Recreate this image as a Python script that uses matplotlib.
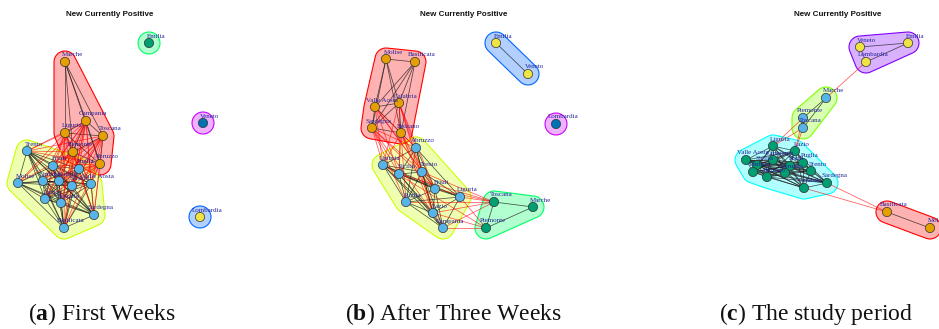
import colorsys
import numpy as np
import matplotlib
matplotlib.use("Agg")
import matplotlib.pyplot as plt
from matplotlib.patches import Polygon
from matplotlib.collections import LineCollection

plt.rcParams["mathtext.fontset"] = "custom"
plt.rcParams["mathtext.rm"] = "Liberation Serif"
plt.rcParams["mathtext.bf"] = "Liberation Serif:bold"

# ---------------------------------------------------------------- data
region_names = {
    "Ab": "Abruzzo", "Ba": "Basilicata", "Bo": "Bolzano", "Cl": "Calabria",
    "Cm": "Campania", "Em": "Emilia", "Fr": "Friuli", "Lz": "Lazio",
    "Lg": "Liguria", "Lo": "Lombardia", "Mr": "Marche", "Ml": "Molise",
    "Pi": "Piemonte", "Pu": "Puglia", "Sa": "Sardegna", "Si": "Sicilia",
    "To": "Toscana", "Tr": "Trento", "Um": "Umbria", "VA": "Valle Aosta",
    "Ve": "Veneto",
}

panel_title = "New Currently Positive"
caption_letters = ["a", "b", "c"]
caption_texts = ["First Weeks", "After Three Weeks", "The study period"]

# network layouts (canvas units, y grows downward)
nodes_a = ["Em", "Mr", "Cm", "Lg", "To", "Pi", "Ab", "Ve", "Lo", "Tr", "Fr",
           "Pu", "VA", "Ml", "Um", "Cl", "Si", "Lz", "Bo", "Sa", "Ba"]
x_a = [149, 65, 86, 65, 103, 73, 100, 203, 200, 27, 53,
       79, 91, 18, 43, 59, 72, 45, 61, 94, 64]
y_a = [43, 62, 121, 133, 136, 152, 164, 123, 217, 151, 166,
       169, 184, 183, 181, 181, 186, 199, 203, 215, 228]

nodes_b = ["Em", "Ve", "Lo", "Ml", "Ba", "VA", "Cl", "Sa", "Bo", "Ab", "Um",
           "Si", "Tr", "Fr", "Lg", "Pu", "Lz", "Cm", "To", "Mr", "Pi"]
x_b = [496, 528, 556, 386, 415, 375, 399, 372, 401, 416, 383,
       399, 422, 435, 460, 406, 433, 443, 494, 533, 486]
y_b = [43, 74, 124, 59, 62, 107, 103, 128, 133, 148, 165,
       174, 172, 189, 197, 202, 213, 228, 202, 207, 228]

nodes_c = ["Ve", "Em", "Lo", "Mr", "Pi", "To", "Lg", "Lz", "VA", "Cm", "Pu",
           "Si", "Um", "Bo", "Fr", "Ab", "Tr", "Sa", "Cl", "Ba", "Ml"]
x_c = [860, 908, 866, 826, 803, 803, 773, 795, 746, 773, 803,
       757, 753, 767, 790, 785, 811, 827, 804, 887, 930]
y_c = [47, 43, 62, 98, 118, 128, 146, 151, 160, 160, 163,
       165, 172, 177, 166, 173, 171, 183, 188, 212, 228]

# communities: members and vertex colour
groups_a = [("Mr Cm Lg To Pi Ab", "#E69F00"),
            ("Tr Fr Pu VA Ml Um Cl Si Lz Bo Sa Ba", "#56B4E9"),
            ("Em", "#009E73"),
            ("Lo", "#F0E442"),
            ("Ve", "#0072B2")]
groups_b = [("Ml Ba VA Cl Sa Bo", "#E69F00"),
            ("Ab Um Si Tr Fr Lg Pu Lz Cm", "#56B4E9"),
            ("To Mr Pi", "#009E73"),
            ("Em Ve", "#F0E442"),
            ("Lo", "#0072B2")]
groups_c = [("Ba Ml", "#E69F00"),
            ("Mr Pi To", "#56B4E9"),
            ("Lg Lz VA Cm Pu Si Um Bo Fr Ab Tr Sa Cl", "#009E73"),
            ("Ve Em Lo", "#F0E442")]

# adjacency lists
edges_a = """
Mr: Cm Lg To Pi Ab
Cm: Lg To Pi Ab Tr Fr Pu VA Ml Um Cl Si Lz Bo Sa Ba
Lg: To Pi Ab Tr Fr Pu VA Ml Um Cl Si Lz Bo Sa Ba
To: Pi Ab Tr Fr Pu VA Um Cl Si Lz Bo Sa Ba
Pi: Ab Tr Fr Pu VA Ml Um Cl Si Lz Bo Sa Ba
Ab: Tr Fr Pu VA Um Cl Si Lz Bo Sa Ba
Tr: Fr Pu VA Ml Um Cl Si Lz Bo Sa Ba
Fr: Pu VA Ml Um Cl Si Lz Bo Sa Ba
Pu: VA Um Cl Si Lz Bo Sa Ba
VA: Um Cl Si Lz Bo Sa Ba
Ml: Um Cl Si Lz Bo Sa Ba
Um: Cl Si Lz Bo Sa Ba
Cl: Si Lz Bo Sa Ba
Si: Lz Bo Sa Ba
Lz: Bo Sa Ba
Bo: Sa Ba
Sa: Ba
"""

edges_b = """
Em: Ve
Ml: Ba VA Cl Sa Bo
Ba: VA Cl Sa Bo
VA: Cl Sa Bo Ab Um Si Tr Fr
Cl: Sa Bo Ab Um Si Tr Fr Lz
Sa: Bo Ab Um Si Tr Fr Pu Lz
Bo: Ab Um Si Tr Fr Pu Lz Cm
Ab: Um Si Tr Fr Lg Pu Lz
Um: Si Tr Fr Lg Pu Lz Cm Pi
Si: Tr Fr Lg Pu Lz Cm To
Tr: Fr Lg Pu Lz Cm To
Fr: Lg Pu Lz Cm To
Lg: Pu Lz Cm To Pi
Pu: Lz Cm To
Lz: Cm To Pi
Cm: To Pi
To: Mr Pi
Pi: Mr
"""

edges_c = """
Ve: Em Lo
Em: Lo
Lo: Mr
Mr: Pi To
Pi: To Lg Lz
To: Lg Lz
Lg: Lz VA Cm Pu Si Um Bo Fr Ab Tr Cl
Lz: VA Cm Pu Si Um Bo Fr Ab Tr Sa Cl
VA: Cm Pu Si Um Bo Fr Ab Tr Sa Cl
Cm: Pu Si Um Bo Fr Ab Tr Sa Cl
Pu: Si Um Bo Fr Ab Tr Sa Cl
Si: Um Bo Fr Ab Tr Sa Cl
Um: Bo Fr Ab Tr Sa Cl
Bo: Fr Ab Tr Sa Cl
Fr: Ab Tr Sa Cl
Ab: Tr Sa Cl
Tr: Sa Cl
Sa: Cl Ba
Cl: Ba
Ba: Ml
"""

title_x = [110, 464, 838]
caption_x = [102, 453, 816]


# ---------------------------------------------------------------- helpers
def rainbow(n):
    """R-style rainbow palette."""
    out = []
    for i in range(n):
        r, g, b = colorsys.hsv_to_rgb(i / n, 1.0, 1.0)
        out.append((r, g, b))
    return out


def convex_hull(pts):
    pts = sorted(set(map(tuple, pts)))
    if len(pts) <= 2:
        return pts

    def cross(o, a, b):
        return (a[0] - o[0]) * (b[1] - o[1]) - (a[1] - o[1]) * (b[0] - o[0])

    lower, upper = [], []
    for p in pts:
        while len(lower) >= 2 and cross(lower[-2], lower[-1], p) <= 0:
            lower.pop()
        lower.append(p)
    for p in reversed(pts):
        while len(upper) >= 2 and cross(upper[-2], upper[-1], p) <= 0:
            upper.pop()
        upper.append(p)
    return lower[:-1] + upper[:-1]


def chaikin(poly, n_iter=3):
    p = np.asarray(poly, float)
    for _ in range(n_iter):
        q = np.roll(p, -1, axis=0)
        p = np.vstack([0.75 * p + 0.25 * q, 0.25 * p + 0.75 * q]).reshape(2, -1, 2)
        p = p.transpose(1, 0, 2).reshape(-1, 2)
    return p


def group_outline(xy, radius=11):
    t = np.linspace(0, 2 * np.pi, 48, endpoint=False)
    ring = np.column_stack([np.cos(t), np.sin(t)]) * radius
    pts = np.vstack([p + ring for p in xy])
    hull = convex_hull(np.round(pts, 3))
    return chaikin(hull, 4)


def parse_edges(text):
    pairs = []
    for line in text.strip().splitlines():
        src, rest = line.split(":")
        for dst in rest.split():
            pairs.append((src.strip(), dst))
    return pairs


def draw_network(ax, nodes, xs, ys, groups, edge_text):
    pos = {n: (x, y) for n, x, y in zip(nodes, xs, ys)}
    membership, vcolor = {}, {}
    for gi, (members, col) in enumerate(groups):
        for m in members.split():
            membership[m] = gi
            vcolor[m] = col

    # community outlines
    for (members, _), hc in zip(groups, rainbow(len(groups))):
        xy = np.array([pos[m] for m in members.split()])
        outline = group_outline(xy)
        ax.add_patch(Polygon(outline, closed=True, facecolor=(*hc, 0.3),
                             edgecolor=hc, linewidth=0.8, zorder=1))

    # edges: black inside a community, red across communities
    inner, cross = [], []
    for a, b in parse_edges(edge_text):
        seg = [pos[a], pos[b]]
        (inner if membership[a] == membership[b] else cross).append(seg)
    ax.add_collection(LineCollection(inner, colors="#1a1a1a", linewidths=0.55,
                                     alpha=0.75, zorder=2))
    ax.add_collection(LineCollection(cross, colors="#FF0000", linewidths=0.55,
                                     alpha=0.65, zorder=2.5))

    # vertices
    ax.scatter(xs, ys, s=44, c=[vcolor[n] for n in nodes],
               edgecolors="#303030", linewidths=0.5, zorder=3)

    # vertex labels, placed up and to the right
    for n, x, y in zip(nodes, xs, ys):
        ax.text(x + 7, y - 7, region_names[n], fontsize=5,
                family="Liberation Serif", color="#24249a",
                ha="center", va="center", zorder=4)


# ---------------------------------------------------------------- figure
fig = plt.figure(figsize=(9.39, 3.29), dpi=100)
ax = fig.add_axes([0, 0, 1, 1])
ax.set_xlim(0, 939)
ax.set_ylim(329, 0)
ax.axis("off")

draw_network(ax, nodes_a, x_a, y_a, groups_a, edges_a)
draw_network(ax, nodes_b, x_b, y_b, groups_b, edges_b)
draw_network(ax, nodes_c, x_c, y_c, groups_c, edges_c)

for tx in title_x:
    ax.text(tx, 15, panel_title, fontsize=5.8, fontweight="bold",
            family="Liberation Sans", ha="center", va="center", color="#111111")

for cx, letter, text in zip(caption_x, caption_letters, caption_texts):
    ax.text(cx, 320, r"($\mathbf{%s}$) %s" % (letter, text), fontsize=17,
            family="Liberation Serif", ha="center", va="baseline", color="#111111")

fig.savefig("out.png", dpi=100)
